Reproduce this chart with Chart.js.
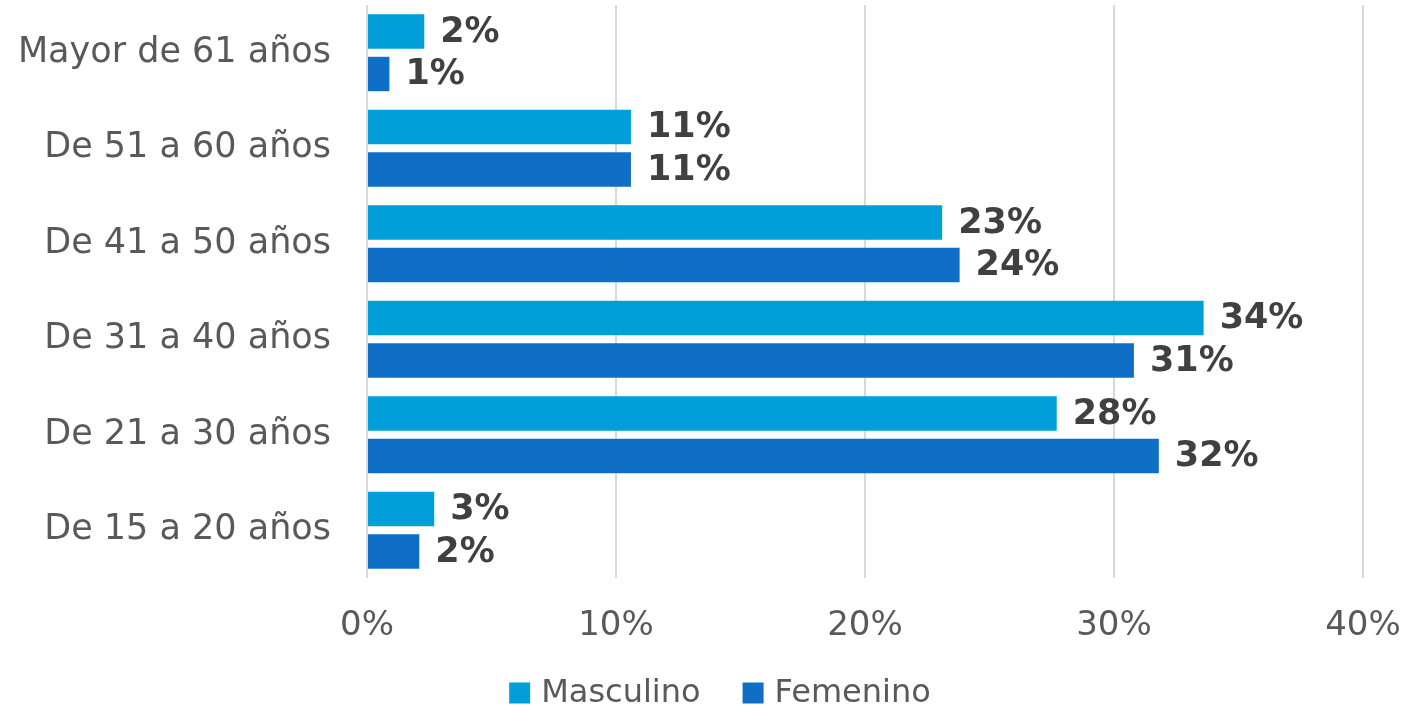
<!DOCTYPE html>
<html>
<head>
<meta charset="utf-8">
<script src="https://cdn.jsdelivr.net/npm/chart.js@4"></script>
<style>
  html, body { margin: 0; padding: 0; background: #fff; }
  #wrap { width: 1408px; height: 709px; }
</style>
</head>
<body>
<div id="wrap"><canvas id="ageChart" width="1408" height="709"></canvas></div>
<script>
// age groups, top to bottom as shown
const categories = ['Mayor de 61 años', 'De 51 a 60 años', 'De 41 a 50 años', 'De 31 a 40 años', 'De 21 a 30 años', 'De 15 a 20 años'];
const masculino = [2.3, 10.6, 23.1, 33.6, 27.7, 2.7];
const femenino = [0.9, 10.6, 23.8, 30.8, 31.8, 2.1];
const xTicks = [0, 10, 20, 30, 40];

const FONT = '"DejaVu Sans"';
const TEXT = '#595959';

// rounded % next to each bar
const barLabels = {
    id: 'barLabels',
    afterDatasetsDraw(chart) {
        const ctx = chart.ctx;
        ctx.save();
        ctx.font = 'bold 35px ' + FONT;
        ctx.fillStyle = '#404040';
        ctx.textAlign = 'left';
        ctx.textBaseline = 'middle';
        chart.data.datasets.forEach((ds, i) => {
            chart.getDatasetMeta(i).data.forEach((bar, j) => {
                ctx.fillText(Math.round(ds.data[j]) + '%', bar.x + 16, bar.y + 1);
            });
        });
        ctx.restore();
    }
};

// legend under the axis, centred like the original
const bottomLegend = {
    id: 'bottomLegend',
    afterDraw(chart) {
        const ctx = chart.ctx;
        const box = 21, gap = 11, between = 42, cy = 693;
        ctx.save();
        ctx.font = '32px ' + FONT;
        ctx.textBaseline = 'middle';
        const items = chart.data.datasets.map(ds => ({
            text: ds.label, color: ds.backgroundColor, w: ctx.measureText(ds.label).width
        }));
        const total = items.reduce((s, it) => s + box + gap + it.w, 0) + between * (items.length - 1);
        let x = 720 - total / 2;
        items.forEach(it => {
            ctx.fillStyle = it.color;
            ctx.fillRect(x, cy - box / 2, box, box);
            ctx.fillStyle = TEXT;
            ctx.fillText(it.text, x + box + gap, cy + 1);
            x += box + gap + it.w + between;
        });
        ctx.restore();
    }
};

const ctx = document.getElementById('ageChart').getContext('2d');
new Chart(ctx, {
    type: 'bar',
    data: {
        labels: categories,
        datasets: [{
            label: 'Masculino',
            data: masculino,
            backgroundColor: '#009FDA'
        }, {
            label: 'Femenino',
            data: femenino,
            backgroundColor: '#0F6FC6'
        }]
    },
    options: {
        indexAxis: 'y',
        responsive: false,
        animation: false,
        layout: { padding: { top: 5, left: 0, right: 45, bottom: 61 } },
        datasets: {
            bar: { categoryPercentage: 0.89, barPercentage: 0.81 }
        },
        scales: {
            x: {
                min: 0,
                max: 40,
                afterBuildTicks(scale) {
                    scale.ticks = xTicks.map(v => ({ value: v }));
                },
                afterFit(scale) {
                    scale.height = 70;
                    scale.paddingLeft = 0;
                    scale.paddingRight = 0;
                },
                grid: { color: '#d9d9d9', lineWidth: 2, drawTicks: false },
                border: { display: false },
                ticks: {
                    padding: 28,
                    color: TEXT,
                    font: { family: FONT, size: 34 },
                    callback: v => v + '%'
                }
            },
            y: {
                afterFit(scale) {
                    scale.width = 367;
                    scale.paddingTop = 0;
                    scale.paddingBottom = 0;
                },
                grid: { display: false },
                border: { display: false },
                ticks: {
                    padding: 28,
                    color: TEXT,
                    font: { family: FONT, size: 35 }
                }
            }
        },
        plugins: {
            tooltip: { enabled: false },
            legend: { display: false }
        }
    },
    plugins: [barLabels, bottomLegend]
});
</script>
</body>
</html>
